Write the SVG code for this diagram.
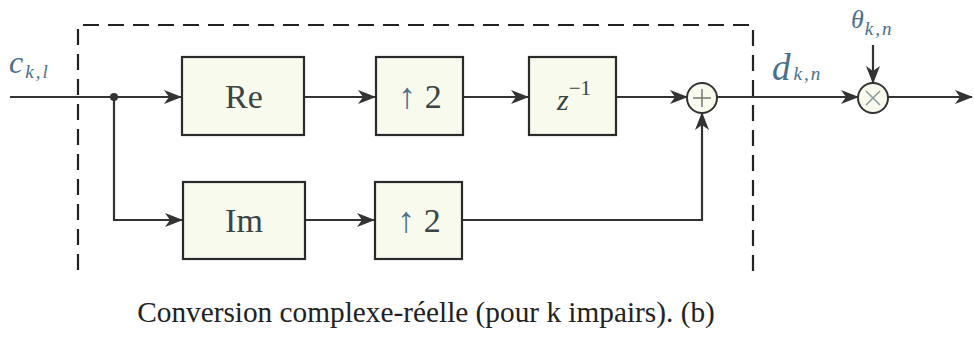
<svg xmlns="http://www.w3.org/2000/svg" width="974" height="337" viewBox="0 0 974 337">
<style>
.box{fill:#f8faee;stroke:#2a2a2a;stroke-width:2.2}
.ln{fill:none;stroke:#333;stroke-width:2.2}
.dash{fill:none;stroke:#222;stroke-width:2.2;stroke-dasharray:16,9}
.lbl{font-family:"Liberation Serif",serif;font-size:34px;fill:#3a4444;text-anchor:middle}
.var{font-family:"Liberation Serif",serif;font-style:italic;fill:#4a6f8c}
.sub{font-size:19px;letter-spacing:2px}
.cap{font-family:"Liberation Serif",serif;font-size:29.3px;fill:#222;text-anchor:middle}
.op{fill:#f8faee;stroke:#333;stroke-width:2}
</style>
<defs>
<marker id="ah" markerWidth="18" markerHeight="14" refX="17" refY="7" orient="auto" markerUnits="userSpaceOnUse">
<path d="M0,0 L18,7 L0,14 L5,7 Z" fill="#333"/>
</marker>
</defs>
<path class="dash" d="M78,270 L78,25 L752,25 M753,30 L753,278"/>
<g id="connectors">
<path class="ln" d="M10,97 L181,97" marker-end="url(#ah)"/>
<path class="ln" d="M114,97 L114,220 L182,220" marker-end="url(#ah)"/>
<path class="ln" d="M304,97 L375,97" marker-end="url(#ah)"/>
<path class="ln" d="M463,97 L528,97" marker-end="url(#ah)"/>
<path class="ln" d="M616,97 L687,97" marker-end="url(#ah)"/>
<path class="ln" d="M305,220 L374,220" marker-end="url(#ah)"/>
<path class="ln" d="M462,220 L702,220 L702,113" marker-end="url(#ah)"/>
<path class="ln" d="M717,97 L858,97" marker-end="url(#ah)"/>
<path class="ln" d="M873,45 L873,83" marker-end="url(#ah)"/>
<path class="ln" d="M888,97 L972,97" marker-end="url(#ah)"/>
<circle cx="114" cy="97" r="4" fill="#333"/>
</g>
<g id="re"><rect class="box" x="182" y="57" width="122" height="78"/><text class="lbl" x="244" y="108">Re</text></g>
<g id="up1"><rect class="box" x="376" y="57" width="87" height="78"/><text class="lbl" x="420" y="108"><tspan fill="#4a6f8c" font-size="36">↑</tspan> 2</text></g>
<g id="zinv"><rect class="box" x="529" y="57" width="87" height="78"/><text class="lbl" x="574" y="110"><tspan font-style="italic" font-size="30">z</tspan><tspan font-size="21" dy="-15">−1</tspan></text></g>
<g id="im"><rect class="box" x="183" y="182" width="122" height="77"/><text class="lbl" x="244" y="232">Im</text></g>
<g id="up2"><rect class="box" x="375" y="182" width="87" height="77"/><text class="lbl" x="419" y="232"><tspan fill="#4a6f8c" font-size="36">↑</tspan> 2</text></g>
<g id="sum"><circle class="op" cx="702" cy="98" r="15"/><path d="M702,89 V107 M693,98 H711" stroke="#777" stroke-width="1.5"/></g>
<g id="mul"><circle class="op" cx="873" cy="98" r="15"/><path d="M866,91 L880,105 M880,91 L866,105" stroke="#8a9a9a" stroke-width="1.5"/></g>
<text class="var" x="9" y="73" font-size="32">c<tspan class="sub" dx="2" dy="5">k,l</tspan></text>
<text class="var" x="772" y="80" font-size="37">d<tspan class="sub" dx="3" dy="0">k,n</tspan></text>
<text class="var" x="851" y="28" font-size="26">θ<tspan class="sub" dx="1" dy="7">k,n</tspan></text>
<text class="cap" x="426" y="322">Conversion complexe-réelle (pour k impairs). (b)</text>
</svg>
